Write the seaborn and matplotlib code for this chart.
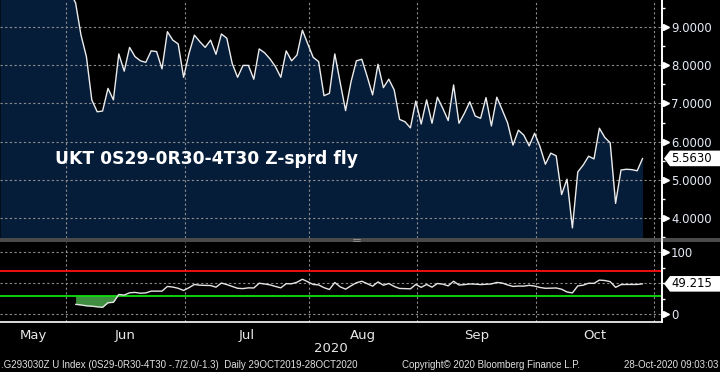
import numpy as np
import pandas as pd
import matplotlib
matplotlib.use("Agg")
import matplotlib.pyplot as plt
import matplotlib.transforms as mtransforms
from matplotlib.patches import Rectangle, Polygon
from matplotlib.lines import Line2D
import seaborn as sns

# ---------------- data ----------------
start_date = "2020-05-12"
end_date = "2020-10-28"
uk_holidays = ["2020-05-25", "2020-08-31"]

fly_values = [10.4, 10.6, 10.3, 10.5, 10.7, 10.4, 10.2, 10.5, 10.3, 10.1, 10.4, 10.2, 10.0, 9.9, 9.62,
              8.78, 8.22, 7.09, 6.78, 6.80, 7.39, 7.09, 8.29, 7.84, 8.46,
              8.22, 8.11, 8.07, 8.37, 8.35, 7.90, 8.87, 8.65, 8.55, 7.68,
              8.30, 8.78, 8.61, 8.46, 8.65, 8.28, 8.81, 8.70, 8.04, 7.68,
              7.99, 7.99, 7.63, 8.42, 8.32, 8.16, 7.96, 7.68, 8.37, 8.11,
              8.26, 8.91, 8.55, 8.20, 8.09, 7.20, 7.26, 8.29, 7.54, 6.81,
              7.56, 8.11, 8.15, 7.70, 7.22, 8.02, 7.41, 7.63, 7.35, 6.58,
              6.52, 6.36, 7.06, 6.46, 7.09, 6.48, 7.16, 6.87, 6.55, 7.48,
              6.48, 6.74, 7.04, 6.67, 6.61, 7.15, 6.41, 7.16, 6.83, 6.49,
              5.91, 6.30, 6.17, 5.89, 6.22, 5.87, 5.41, 5.70, 5.63, 4.62,
              5.02, 3.75, 5.21, 5.39, 5.62, 5.55, 6.35, 6.11, 5.97, 4.39,
              5.26, 5.28, 5.27, 5.24, 5.563]

rsi_values = [np.nan] * 14 + [
    16, 15, 13.6, 13, 12, 11.2, 18.6, 19.3, 32, 31,
    34.7, 35.3, 34, 34.5, 37.4, 37.4, 37.4, 45, 44, 42,
    38.5, 43, 48.2, 47, 46.7, 46.5, 43.8, 50.5, 48, 45,
    42, 41.5, 42.7, 42.5, 50.2, 49, 47.5, 45, 42.7, 49.5,
    49.3, 51.8, 56.7, 52.5, 48.2, 47.5, 43, 40.1, 51.4, 44.3,
    40.6, 46, 51, 53.4, 49.5, 45.4, 52.3, 47, 49.8, 45,
    41.7, 41.5, 41.1, 48.2, 43.5, 48.2, 43.8, 49.8, 48.7, 45.9,
    53.4, 47.3, 48, 49, 48.7, 48, 48.5, 49, 51.5, 50.5,
    47.5, 45, 45.6, 45.5, 46.8, 45.6, 43.3, 42, 42.2, 42.5,
    40.5, 36, 34.5, 45.9, 47, 50.2, 50, 55.3, 54.6, 52.8,
    43.5, 48, 48.2, 48.2, 48.2, 49.215]

main_ticks = [4, 5, 6, 7, 8, 9]
rsi_ticks = [0, 100]
rsi_upper, rsi_lower = 70, 30
month_labels = ["May", "Jun", "Jul", "Aug", "Sep", "Oct"]
year_label = "2020"
title_text = "UKT 0S29-0R30-4T30 Z-sprd fly"
footer_left = ".G293030Z U Index (0S29-0R30-4T30 -.7/2.0/-1.3)  Daily 29OCT2019-28OCT2020"
footer_mid = "Copyright\u00a9 2020 Bloomberg Finance L.P."
footer_right = "28-Oct-2020 09:03:03"

# ---------------- business-day axis ----------------
all_days = pd.bdate_range(start_date, "2020-11-30")
all_days = all_days[~all_days.isin(pd.to_datetime(uk_holidays))]
dates = all_days[all_days <= pd.Timestamp(end_date)]
idx = np.arange(len(dates))
df = pd.DataFrame({"i": idx, "fly": fly_values, "rsi": rsi_values})

# month boundaries (just before the first business day of each month)
pos_all = pd.Series(np.arange(len(all_days)), index=all_days)
month_first = pos_all.groupby([all_days.year, all_days.month]).min().values[1:]
bounds = month_first - 0.8

# ---------------- style ----------------
sns.set_style("dark", rc={"axes.facecolor": "black", "figure.facecolor": "black"})
plt.rcParams["font.family"] = ["DejaVu Sans"]

W, H = 720, 372
fig = plt.figure(figsize=(7.2, 3.72), dpi=100, facecolor="black")
ax = fig.add_axes([0, 1 - 238 / H, 662 / W, 238 / H])
ax2 = fig.add_axes([0, 1 - 322.3 / H, 662 / W, (322.3 - 242) / H])

navy = "#061d3a"
grid_kw = dict(color="#8c8c8c", linestyle=(0, (2, 2.2)), linewidth=0.8)
tick_col = "#e6ecf6"
x_right = 662 / 5.4

# ----- main panel -----
ylo, yhi = 3.486, 9.697
ax.set_facecolor("black")
ax.fill_between(df["i"], df["fly"], ylo, color=navy, lw=0, zorder=1)
sns.lineplot(data=df, x="i", y="fly", ax=ax, color="#ececec", lw=1.0, zorder=4)
ax.set_xlim(0, x_right)
ax.set_ylim(ylo, yhi)
for v in main_ticks:
    ax.axhline(v, zorder=3, **grid_kw)
for b in bounds:
    ax.axvline(b, zorder=3, **grid_kw)
ax.grid(False)
ax.set_xlabel("")
ax.set_ylabel("")
ax.set_xticks([])
ax.yaxis.tick_right()
ax.set_yticks(main_ticks)
ax.set_yticklabels([f"{v:.4f}" for v in main_ticks])
ax.set_yticks(np.arange(3.5, 10, 1.0), minor=True)
ax.tick_params(axis="y", which="major", length=0, pad=6.5, labelsize=8.4, labelcolor=tick_col)
ax.tick_params(axis="y", which="minor", length=2.4, width=1, color="white", direction="out")
for s in ["top", "left", "bottom"]:
    ax.spines[s].set_visible(False)
ax.spines["right"].set_color("white")
ax.spines["right"].set_linewidth(1.2)
ax.text(55 / 662, 1 - 159.3 / 238, title_text, transform=ax.transAxes, color="white",
        fontsize=12.3, fontweight="bold", va="center", ha="left", zorder=6)

# ----- RSI panel -----
rlo, rhi = -13.1, 117
ax2.set_facecolor("black")
r = df["rsi"].values
ax2.fill_between(df["i"], r, rsi_lower, where=(r < rsi_lower), interpolate=True,
                 color="#3f8e3f", lw=0, zorder=1)
ax2.axhline(rsi_upper, color="#ff1010", lw=1.3, zorder=2)
ax2.axhline(rsi_lower, color="#10e010", lw=1.3, zorder=2)
for v in [0, 50, 100]:
    ax2.axhline(v, zorder=1.5, **grid_kw)
for b in bounds:
    ax2.axvline(b, zorder=1.5, **grid_kw)
sns.lineplot(data=df, x="i", y="rsi", ax=ax2, color="#e4e4e4", lw=1.0, zorder=4)
ax2.grid(False)
ax2.set_xlim(0, x_right)
ax2.set_ylim(rlo, rhi)
ax2.set_xlabel("")
ax2.set_ylabel("")
ax2.yaxis.tick_right()
ax2.set_yticks(rsi_ticks)
ax2.set_yticklabels([str(v) for v in rsi_ticks])
ax2.set_yticks([25, 50, 75], minor=True)
ax2.tick_params(axis="y", which="major", length=0, pad=6.5, labelsize=8.4, labelcolor=tick_col)
ax2.tick_params(axis="y", which="minor", length=2.4, width=1, color="white", direction="out")
ax2.set_xticks(bounds)
ax2.set_xticklabels([""] * len(bounds))
edges = [0] + list(bounds[bounds < x_right])
mids = [(edges[k] + edges[k + 1]) / 2 for k in range(len(edges) - 1)]
ax2.set_xticks(mids, minor=True)
ax2.set_xticklabels(month_labels[:len(mids)], minor=True)
ax2.tick_params(axis="x", which="major", length=3, width=1, color="white", direction="out")
ax2.tick_params(axis="x", which="minor", length=0, pad=4.5, labelsize=9.5, labelcolor="#e8e8e8")
for s in ["top", "left"]:
    ax2.spines[s].set_visible(False)
for s in ["right", "bottom"]:
    ax2.spines[s].set_color("white")
    ax2.spines[s].set_linewidth(1.2)

# triangle tick markers
for a, ticks in [(ax, main_ticks), (ax2, rsi_ticks)]:
    tr = mtransforms.blended_transform_factory(a.transAxes, a.transData) + \
        mtransforms.ScaledTranslation(4 / 100, 0, fig.dpi_scale_trans)
    a.plot([1.0] * len(ticks), ticks, marker=">", ms=5, color="white", ls="none",
           transform=tr, clip_on=False, zorder=6)

# separator band, small handle and continuous right spine
fig.patches.append(Rectangle((0, 1 - 242 / H), 1, 4 / H, transform=fig.transFigure,
                             facecolor="#4a4a4a", edgecolor="none", zorder=0))
for yy in (239.3, 241.0):
    fig.lines.append(Line2D([353 / W, 360 / W], [1 - yy / H] * 2, transform=fig.transFigure,
                            color="#9a9a9a", lw=0.6))
fig.lines.append(Line2D([662 / W, 662 / W], [1 - 322.3 / H, 1.0], transform=fig.transFigure,
                        color="white", lw=1.2))

# last-value boxes
fig.canvas.draw()
ident = mtransforms.IdentityTransform()
def value_box(a, val, txt):
    yd = a.transData.transform((0, val))[1]
    h = 7.8
    poly = Polygon([(664, yd), (670, yd + h), (720, yd + h), (720, yd - h), (670, yd - h)],
                   closed=True, transform=ident, facecolor="white", edgecolor="none", zorder=10)
    fig.patches.append(poly)
    fig.text(671 / W, yd / H, txt, color="black", fontsize=8.4, va="center", ha="left", zorder=11)

value_box(ax, fly_values[-1], f"{fly_values[-1]:.4f}")
value_box(ax2, rsi_values[-1], f"{rsi_values[-1]:.3f}")

# texts
fig.text(331 / W, 1 - 348.3 / H, year_label, color="#e8e8e8", fontsize=9.5, ha="center", va="center")
foot_font = ["Liberation Sans Narrow", "Liberation Sans", "DejaVu Sans"]
fig.text(1 / W, 1 - 364.5 / H, footer_left, color="#e0e0e0", fontsize=7, ha="left", va="center", family=foot_font)
fig.text(402 / W, 1 - 364.5 / H, footer_mid, color="#e0e0e0", fontsize=7, ha="left", va="center", family=foot_font)
fig.text(718 / W, 1 - 364.5 / H, footer_right, color="#e0e0e0", fontsize=7, ha="right", va="center", family=foot_font)

fig.savefig("out.png", dpi=100, facecolor="black")
